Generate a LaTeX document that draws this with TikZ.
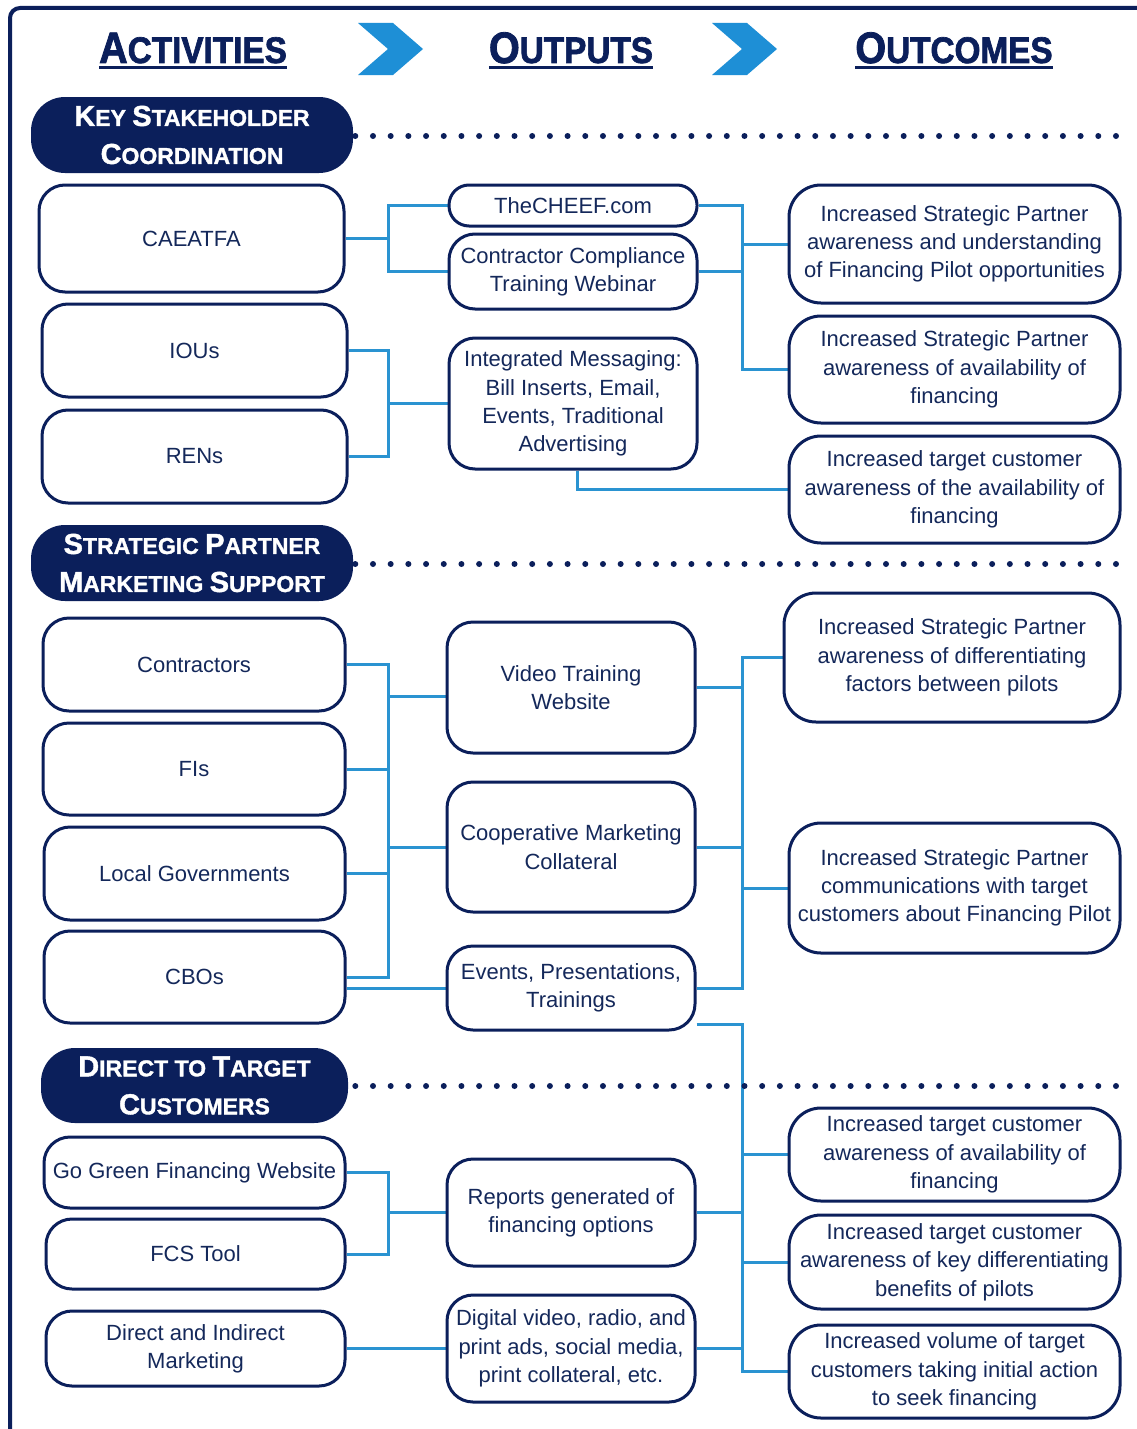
\documentclass[tikz,border=0pt]{standalone}
\usepackage{fontspec}
\setmainfont{Liberation Sans}
\newfontfamily\titlefont{Liberation Sans}[FakeStretch=0.9,BoldFeatures={FakeBold=1.8}]
\newfontfamily\secfont{Liberation Sans}[BoldFeatures={FakeBold=1.4}]
\usetikzlibrary{calc}
\definecolor{navy}{HTML}{0B1F5B}
\definecolor{lblue}{HTML}{2A93D1}
\definecolor{chev}{HTML}{1E8FD6}
\definecolor{txt}{HTML}{14285A}
\pgfdeclarelayer{bg}
\pgfsetlayers{bg,main}
\newcommand\tbig[1]{{\fontsize{44}{44}\selectfont #1}}
\newcommand\tsml[1]{{\fontsize{37}{37}\selectfont #1}}
\newcommand\sbig[1]{{\fontsize{29}{29}\selectfont #1}}
\tikzset{
  actbox/.style={draw=navy, line width=3pt, fill=white, rounded corners=26pt,
    inner sep=0pt, align=center, text=txt, font=\fontsize{22}{28.3}\selectfont},
  secbox/.style={fill=navy, rounded corners=34pt, inner sep=0pt, align=center,
    text=white, font=\secfont\bfseries\fontsize{23}{38}\selectfont},
  conn/.style={draw=lblue, line width=3pt},
  dots/.style={draw=navy, line width=6pt, line cap=round, dash pattern=on 0pt off 17.69pt},
  titletext/.style={inner sep=0pt, anchor=base, text=navy, font=\titlefont\bfseries},
  uline/.style={draw=navy, line width=3pt},
  chevron/.style={fill=chev},
  frame/.style={draw=navy, line width=4pt, rounded corners=10pt}
}
\begin{document}
\begin{tikzpicture}[x=1pt,y=-1pt]
\useasboundingbox (0,0) rectangle (1137,1429);
\begin{pgfonlayer}{bg}
\fill[white] (0,0) rectangle (1137,1429);
\end{pgfonlayer}
% frame
\draw[frame] (10,1440) -- (10,8) -- (1145,8);
% titles
\node[titletext] (hact) at (193,63) {\tbig{A}\tsml{CTIVITIES}};
\node[titletext] (hout) at (571,63) {\tbig{O}\tsml{UTPUTS}};
\node[titletext] (hoc) at (954,63) {\tbig{O}\tsml{UTCOMES}};
\foreach \n in {hact,hout,hoc}{
  \draw[uline] ([yshift=-4.5pt]\n.base west) -- ([yshift=-4.5pt]\n.base east);
}
% chevrons
\fill[chevron] (358,23) -- (393,23) -- (423,49) -- (393,75) -- (358,75) -- (388,49) -- cycle;
\fill[chevron] (712,23) -- (747,23) -- (777,49) -- (747,75) -- (712,75) -- (742,49) -- cycle;
% dotted separators
\coordinate (d1) at (1118,136);
\coordinate (d2) at (1118,564);
\coordinate (d3) at (1118,1086);
\draw[dots] (355.3,136) -- (d1);
\draw[dots] (355.3,564) -- (d2);
\draw[dots] (355.3,1086) -- (d3);
% section headers
\node[secbox, minimum width=322pt, minimum height=76pt] (s1) at (192,135)
  {\sbig{K}EY \sbig{S}TAKEHOLDER\\\sbig{C}OORDINATION};
\node[secbox, minimum width=322pt, minimum height=76pt] (s2) at (192,563)
  {\sbig{S}TRATEGIC \sbig{P}ARTNER\\\sbig{M}ARKETING \sbig{S}UPPORT};
\node[secbox, minimum width=307pt, minimum height=75pt] (s3) at (194.5,1085.5)
  {\sbig{D}IRECT TO \sbig{T}ARGET\\\sbig{C}USTOMERS};
% activities
\node[actbox, minimum width=305pt, minimum height=107pt] (caeatfa) at (191.5,238.5) {CAEATFA};
\node[actbox, minimum width=305pt, minimum height=93pt] (ious) at (194.5,350.5) {IOUs};
\node[actbox, minimum width=305pt, minimum height=93pt] (rens) at (194.5,456.5) {RENs};
\node[actbox, minimum width=302pt, minimum height=93pt] (contr) at (194,664.5) {Contractors};
\node[actbox, minimum width=302pt, minimum height=92pt] (fis) at (194,769) {FIs};
\node[actbox, minimum width=301pt, minimum height=93pt] (lg) at (194.5,873.5) {Local Governments};
\node[actbox, minimum width=301pt, minimum height=92pt] (cbos) at (194.5,977) {CBOs};
\node[actbox, minimum width=301pt, minimum height=71pt] (gg) at (194.5,1172.5) {Go Green Financing Website};
\node[actbox, minimum width=299pt, minimum height=70pt] (fcs) at (195.5,1254) {FCS Tool};
\node[actbox, minimum width=299pt, minimum height=75pt] (dim) at (195.5,1348.5) {Direct and Indirect\\Marketing};
% outputs
\node[actbox, rounded corners=20pt, minimum width=248pt, minimum height=41pt] (cheef) at (573,205.5) {TheCHEEF.com};
\node[actbox, minimum width=248pt, minimum height=75pt] (ccw) at (573,271.5) {Contractor Compliance\\Training Webinar};
\node[actbox, minimum width=248pt, minimum height=131pt] (im) at (573,403.5) {Integrated Messaging:\\Bill Inserts, Email,\\Events, Traditional\\Advertising};
\node[actbox, minimum width=248pt, minimum height=131pt] (vtw) at (571,687.5) {Video Training\\Website};
\node[actbox, minimum width=248pt, minimum height=130pt] (cmc) at (571,847) {Cooperative Marketing\\Collateral};
\node[actbox, minimum width=248pt, minimum height=84pt] (events) at (571,988) {Events, Presentations,\\Trainings};
\node[actbox, minimum width=248pt, minimum height=107pt] (rep) at (571,1212.5) {Reports generated of\\financing options};
\node[actbox, minimum width=248pt, minimum height=107pt] (dig) at (571,1348.5) {Digital video, radio, and\\print ads, social media,\\print collateral, etc.};
% outcomes
\node[actbox, rounded corners=32pt, minimum width=331pt, minimum height=118pt] (o1) at (954.5,244) {Increased Strategic Partner\\awareness and understanding\\of Financing Pilot opportunities};
\node[actbox, rounded corners=32pt, minimum width=331pt, minimum height=107pt] (o2) at (954.5,369.5) {Increased Strategic Partner\\awareness of availability of\\financing};
\node[actbox, rounded corners=32pt, minimum width=331pt, minimum height=107pt] (o3) at (954.5,489.5) {Increased target customer\\awareness of the availability of\\financing};
\node[actbox, rounded corners=32pt, minimum width=336pt, minimum height=129pt] (o4) at (952,657.5) {Increased Strategic Partner\\awareness of differentiating\\factors between pilots};
\node[actbox, rounded corners=32pt, minimum width=331pt, minimum height=130pt] (o5) at (954.5,888) {Increased Strategic Partner\\communications with target\\customers about Financing Pilot};
\node[actbox, rounded corners=32pt, minimum width=331pt, minimum height=93pt] (o6) at (954.5,1154.5) {Increased target customer\\awareness of availability of\\financing};
\node[actbox, rounded corners=32pt, minimum width=331pt, minimum height=94pt] (o7) at (954.5,1262) {Increased target customer\\awareness of key differentiating\\benefits of pilots};
\node[actbox, rounded corners=32pt, minimum width=331pt, minimum height=93pt] (o8) at (954.5,1371.5) {Increased volume of target\\customers taking initial action\\to seek financing};
% connectors
\coordinate (LB) at (388,0);
\coordinate (RB) at (742,0);
\begin{pgfonlayer}{bg}
% section 1
\draw[conn] (caeatfa.east) -- (caeatfa.east -| LB);
\draw[conn] (cheef.west) -- (cheef.west -| LB) -- (ccw.west -| LB) -- (ccw.west);
\draw[conn] (ious.east) -- (ious.east -| LB) -- (rens.east -| LB) -- (rens.east);
\draw[conn] (im.west) -- (im.west -| LB);
\draw[conn] (cheef.east) -- (cheef.east -| RB) -- (o2.west -| RB) -- (o2.west);
\draw[conn] (ccw.east) -- (ccw.east -| RB);
\draw[conn] (o1.west) -- (o1.west -| RB);
\draw[conn] ([xshift=4pt]im.south) -- ([xshift=4pt]im.south |- o3.west) -- (o3.west);
% section 2
\draw[conn] (contr.east) -- (contr.east -| LB) -- (cbos.east -| LB) -- (cbos.east);
\draw[conn] (fis.east) -- (fis.east -| LB);
\draw[conn] (lg.east) -- (lg.east -| LB);
\draw[conn] ([yshift=-9pt]vtw.west) -- ([yshift=-9pt]vtw.west -| LB);
\draw[conn] (cmc.west) -- (cmc.west -| LB);
\draw[conn] (events.west) -- (events.west -| cbos.east);
\draw[conn] (vtw.east) -- (vtw.east -| RB);
\draw[conn] (cmc.east) -- (cmc.east -| RB);
\draw[conn] (o4.west) -- (o4.west -| RB) -- (events.east -| RB) -- (events.east);
\draw[conn] (o5.west) -- (o5.west -| RB);
% section 3
\draw[conn] ([yshift=7pt]events.south east) -- ([yshift=7pt]events.south east -| RB) -- (o8.west -| RB) -- (o8.west);
\draw[conn] (o6.west) -- (o6.west -| RB);
\draw[conn] (o7.west) -- (o7.west -| RB);
\draw[conn] (rep.east) -- (rep.east -| RB);
\draw[conn] (dig.east) -- (dig.east -| RB);
\draw[conn] (gg.east) -- (gg.east -| LB) -- (fcs.east -| LB) -- (fcs.east);
\draw[conn] (rep.west) -- (rep.west -| LB);
\draw[conn] (dim.east) -- (dig.west);
\end{pgfonlayer}
\end{tikzpicture}
\end{document}
